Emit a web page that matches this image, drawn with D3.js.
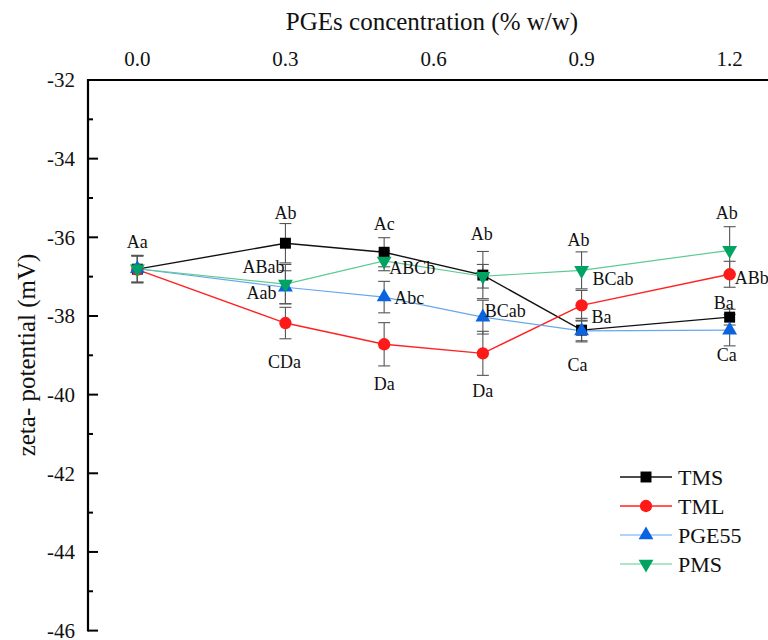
<!DOCTYPE html>
<html>
<head>
<meta charset="utf-8">
<script src="https://cdn.jsdelivr.net/npm/d3@7"></script>
<style>
  body { margin: 0; background: #fff; }
</style>
</head>
<body>
<svg id="chart" width="768" height="640" font-family="'Liberation Serif', Tinos, 'DejaVu Serif', serif"></svg>
<script>
// PGEs concentration (% w/w)
var conc = [0, 0.3, 0.5, 0.7, 0.9, 1.2];

var tmsMean = [-36.81, -36.15, -36.38, -36.96, -38.36, -38.03];
var tmsErr = [0.34, 0.5, 0.37, 0.6, 0.3, 0.2];
var tmlMean = [-36.82, -38.18, -38.72, -38.95, -37.73, -36.94];
var tmlErr = [0.34, 0.4, 0.55, 0.56, 0.38, 0.33];
var pgeMean = [-36.8, -37.27, -37.52, -38.03, -38.38, -38.36];
var pgeErr = [0.34, 0.42, 0.4, 0.43, 0.25, 0.4];
var pmsMean = [-36.8, -37.19, -36.6, -36.99, -36.84, -36.33];
var pmsErr = [0.34, 0.5, 0.25, 0.3, 0.47, 0.6];

// significance letters
var tmsLetters = ["Aa", "Ab", "Ac", "Ab", "Ba", "Ba"];
var tmlLetters = ["", "CDa", "Da", "Da", "BCab", "ABb"];
var pgeLetters = ["", "Aab", "Abc", "BCab", "Ca", "Ca"];
var pmsLetters = ["", "ABab", "ABCb", "", "Ab", "Ab"];

var xTicks = [0, 0.3, 0.6, 0.9, 1.2];
var yTicks = [-32, -34, -36, -38, -40, -42, -44, -46];

// label placement [dx, dy, anchor] per point
var tmsPlace = [[0, -27, "middle"], [0, -31, "middle"], [0, -29, "middle"], [-1, -41, "middle"], [10, -13, "start"], [-6, -14, "middle"]];
var tmlPlace = [null, [-1, 39, "middle"], [0, 39, "middle"], [0, 37, "middle"], [11, -27, "start"], [5, 3, "start"]];
var pgePlace = [null, [-9, 5, "end"], [10, 1, "start"], [2, -6, "start"], [-4, 34, "middle"], [-3, 25, "middle"]];
var pmsPlace = [null, [-22, -17, "middle"], [5, 7, "start"], null, [-3, -31, "middle"], [-3, -38, "middle"]];

var series = [
  { name: "TMS", mean: tmsMean, err: tmsErr, letters: tmsLetters, place: tmsPlace, line: "#111", fill: "#000", sym: d3.symbolSquare, size: 120, lw: 1.4 },
  { name: "TML", mean: tmlMean, err: tmlErr, letters: tmlLetters, place: tmlPlace, line: "#ff2222", fill: "#ff1a1a", sym: d3.symbolCircle, size: 120, lw: 1.4 },
  { name: "PGE55", mean: pgeMean, err: pgeErr, letters: pgeLetters, place: pgePlace, line: "#6aa6ee", fill: "#0a63e0", sym: d3.symbolTriangle, size: 95, lw: 1.2 },
  { name: "PMS", mean: pmsMean, err: pmsErr, letters: pmsLetters, place: pmsPlace, line: "#5ccb92", fill: "#00a462", sym: d3.symbolTriangle, size: 95, lw: 1.2, flip: true }
];

var svg = d3.select("#chart");

var x = d3.scaleLinear().domain([-0.1, 1.3]).range([88, 779]);
var y = d3.scaleLinear().domain([-46, -32]).range([630.6, 80]);

// left axis with inward ticks
var gy = svg.append("g").attr("transform", "translate(" + x(-0.1) + ",0)");
gy.append("line")
  .attr("x1", 0).attr("x2", 0)
  .attr("y1", y(-32) - 1).attr("y2", y(-46) + 1)
  .attr("stroke", "#000").attr("stroke-width", 2.2);
gy.selectAll(".tk")
  .data(d3.range(-46, -32, 1))
  .enter().append("line")
  .attr("x1", 0)
  .attr("x2", function (d) { return d % 2 === 0 ? 10 : 5; })
  .attr("y1", function (d) { return y(d); })
  .attr("y2", function (d) { return y(d); })
  .attr("stroke", "#000").attr("stroke-width", 2);
gy.selectAll(".yl")
  .data(yTicks)
  .enter().append("text")
  .attr("x", -13)
  .attr("y", function (d) { return y(d); })
  .attr("dy", "0.35em")
  .attr("text-anchor", "end")
  .attr("fill", "#111")
  .style("font-size", "21px")
  .text(function (d) { return d; });

// top axis
var gx = svg.append("g").attr("transform", "translate(0," + y(-32) + ")");
gx.append("line")
  .attr("x1", x(-0.1) - 1).attr("x2", 768)
  .attr("y1", 0).attr("y2", 0)
  .attr("stroke", "#000").attr("stroke-width", 2.2);
gx.selectAll(".xl")
  .data(xTicks)
  .enter().append("text")
  .attr("x", function (d) { return x(d); })
  .attr("y", -14)
  .attr("text-anchor", "middle")
  .attr("fill", "#111")
  .style("font-size", "21px")
  .text(function (d) { return d3.format(".1f")(d); });

svg.append("text")
  .attr("x", 432).attr("y", 30)
  .attr("text-anchor", "middle")
  .attr("fill", "#111")
  .style("font-size", "25px")
  .text("PGEs concentration (% w/w)");

svg.append("text")
  .attr("transform", "translate(35,355) rotate(-90)")
  .attr("text-anchor", "middle")
  .attr("fill", "#111")
  .style("font-size", "25px")
  .text("zeta- potential (mV)");

function marker(s) {
  return d3.symbol().type(s.sym).size(s.size)();
}

// error bars
series.forEach(function (s) {
  var g = svg.append("g").attr("stroke", "#555").attr("stroke-width", 1.1);
  conc.forEach(function (c, i) {
    var cx = x(c), hi = y(s.mean[i] + s.err[i]), lo = y(s.mean[i] - s.err[i]);
    g.append("line").attr("x1", cx).attr("x2", cx).attr("y1", hi).attr("y2", lo);
    g.append("line").attr("x1", cx - 6).attr("x2", cx + 6).attr("y1", hi).attr("y2", hi);
    g.append("line").attr("x1", cx - 6).attr("x2", cx + 6).attr("y1", lo).attr("y2", lo);
  });
});

// lines
var line = d3.line()
  .x(function (d, i) { return x(conc[i]); })
  .y(function (d) { return y(d); });

series.forEach(function (s) {
  svg.append("path")
    .datum(s.mean)
    .attr("fill", "none")
    .attr("stroke", s.line)
    .attr("stroke-width", s.lw)
    .attr("d", line);
});

// markers
series.forEach(function (s) {
  svg.selectAll(null)
    .data(s.mean)
    .enter().append("path")
    .attr("d", marker(s))
    .attr("fill", s.fill)
    .attr("transform", function (d, i) {
      return "translate(" + x(conc[i]) + "," + y(d) + ")" + (s.flip ? " rotate(180)" : "");
    });
});

// letters
series.forEach(function (s) {
  s.letters.forEach(function (t, i) {
    if (!t || !s.place[i]) return;
    var p = s.place[i];
    svg.append("text")
      .attr("x", x(conc[i]) + p[0])
      .attr("y", y(s.mean[i]) + p[1])
      .attr("dy", "0.35em")
      .attr("text-anchor", p[2])
      .attr("fill", "#111")
      .style("font-size", "18px")
      .text(t);
  });
});

// legend
var legend = svg.append("g").attr("transform", "translate(620,477)");
series.forEach(function (s, i) {
  var g = legend.append("g").attr("transform", "translate(0," + i * 29 + ")");
  g.append("line").attr("x1", 0).attr("x2", 52).attr("y1", 0).attr("y2", 0)
    .attr("stroke", s.line).attr("stroke-width", s.lw);
  g.append("path").attr("d", marker(s)).attr("fill", s.fill)
    .attr("transform", "translate(26,0)" + (s.flip ? " rotate(180)" : ""));
  g.append("text").attr("x", 58).attr("y", 0).attr("dy", "0.35em")
    .attr("fill", "#111")
    .style("font-size", "22px").text(s.name);
});
</script>
</body>
</html>
